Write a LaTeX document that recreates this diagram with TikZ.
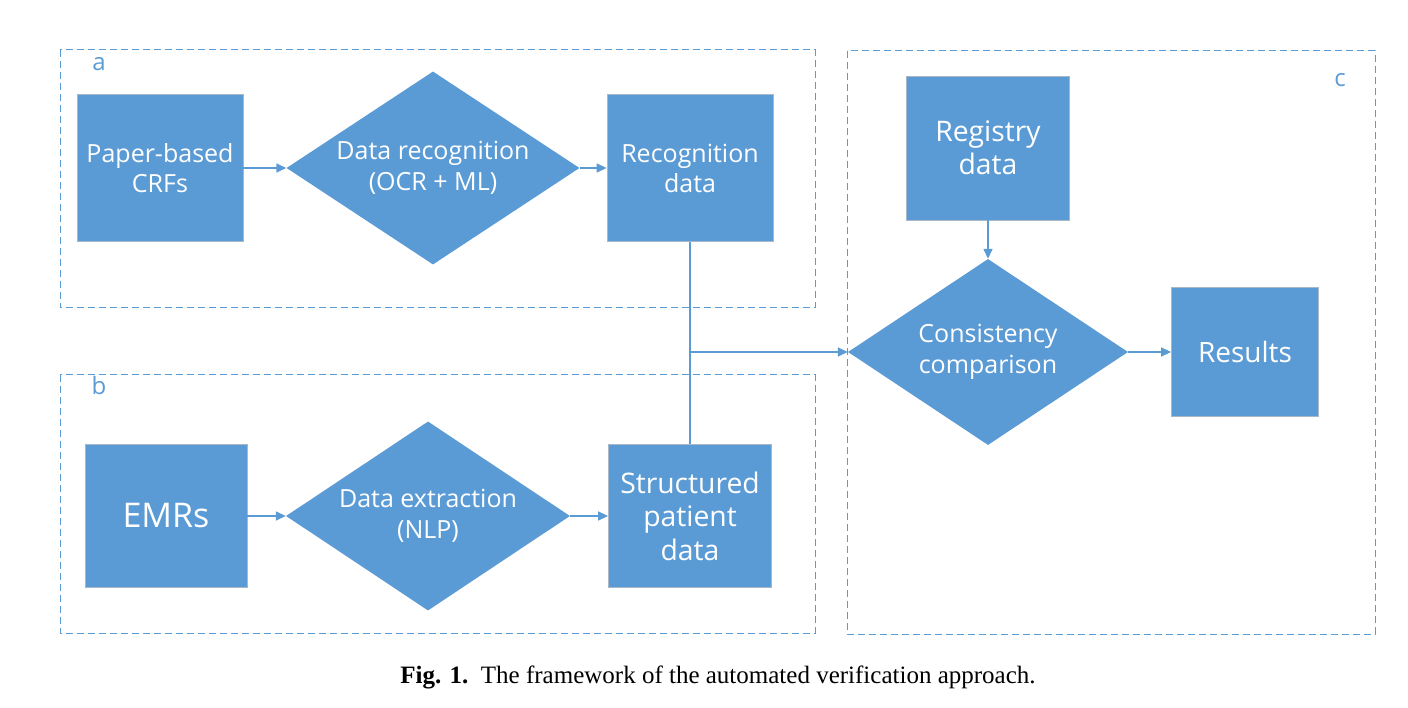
\documentclass[tikz,border=0pt]{standalone}
\usepackage{fontspec}
\setmainfont{Liberation Serif}
\newfontfamily\boxfont{Open Sans}
\usetikzlibrary{arrows.meta,shapes.geometric}
\definecolor{ofblue}{HTML}{5B9BD5}
\definecolor{edgegrey}{HTML}{A9B8C8}
\tikzset{
  x=1pt,y=-1pt,
  procbox/.style={rectangle,fill=ofblue,draw=edgegrey,line width=0.8pt,text=white,font=\boxfont\fontsize{25}{30}\selectfont,align=center,inner sep=0pt},
  decide/.style={diamond,fill=ofblue,draw=none,text=white,font=\boxfont\fontsize{25}{30.5}\selectfont,align=center,inner sep=0pt},
  group/.style={draw=ofblue,dashed,dash pattern=on 7pt off 4pt,line width=1pt},
  grplabel/.style={text=ofblue,font=\boxfont\fontsize{24}{28}\selectfont,inner sep=0pt},
  conn/.style={draw=ofblue,line width=1.5pt,-{Triangle[length=10pt,width=9pt]}},
  plain/.style={draw=ofblue,line width=1.5pt}
}
\begin{document}
\begin{tikzpicture}
\useasboundingbox (0,0) rectangle (1408,708);
% groups
\draw[group] (60,50) rectangle (815,308);
\draw[group] (60,375) rectangle (815,633);
\draw[group] (847,51) rectangle (1375,634);
\node[grplabel] (la) at (99,64) {a};
\node[grplabel] (lb) at (99,386) {b};
\node[grplabel] (lc) at (1340,80) {c};
% nodes
\node[procbox,minimum width=166pt,minimum height=147pt] (crf) at (160,168) {Paper-based\\CRFs};
\node[decide,minimum width=293pt,minimum height=193pt,shape aspect=1.52] (rec) at (433,168) {Data recognition\\(OCR + ML)};
\node[procbox,minimum width=166pt,minimum height=147pt] (recd) at (690,168) {Recognition\\data};
\node[procbox,minimum width=162pt,minimum height=143pt,font=\boxfont\fontsize{34}{40}\selectfont] (emr) at (166,516) {EMRs};
\node[decide,minimum width=284pt,minimum height=189pt,shape aspect=1.5] (ext) at (428,516) {Data extraction\\(NLP)};
\node[procbox,minimum width=163pt,minimum height=143pt,font=\boxfont\fontsize{28.3}{33.5}\selectfont] (spd) at (690,516) {Structured\\patient\\data};
\node[procbox,minimum width=163pt,minimum height=144pt,font=\boxfont\fontsize{28.3}{33}\selectfont] (reg) at (988,148) {Registry\\data};
\node[decide,minimum width=280pt,minimum height=186pt,shape aspect=1.5] (cmp) at (988,352) {Consistency\\comparison};
\node[procbox,minimum width=147pt,minimum height=129pt,font=\boxfont\fontsize{28}{33}\selectfont] (res) at (1245,352) {Results};
\coordinate (j) at (690,352);
% connectors
\draw[conn] (crf) -- (rec);
\draw[conn] (rec) -- (recd);
\draw[conn] (emr) -- (ext);
\draw[conn] (ext) -- (spd);
\draw[plain] (recd.south) -- (spd.north);
\draw[conn] (j) -- (cmp.west);
\draw[conn] (reg) -- (cmp);
\draw[conn] (cmp) -- (res);
% caption
\node[font=\fontsize{25}{28}\selectfont,anchor=center] (cap) at (718,677) {\textbf{Fig. 1.}\enspace The framework of the automated verification approach.};
\end{tikzpicture}
\end{document}
